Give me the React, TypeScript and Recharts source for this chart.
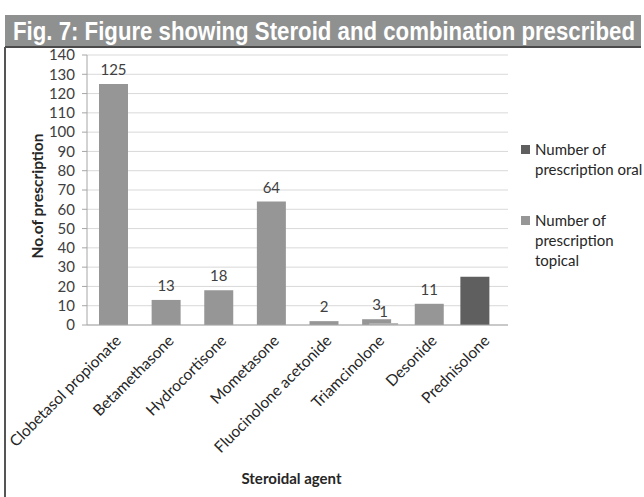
import React from 'react';
import { BarChart, Bar, XAxis, YAxis, CartesianGrid, LabelList, Label } from 'recharts';

// steroid agents on the x axis
const agents = [
  'Clobetasol propionate',
  'Betamethasone',
  'Hydrocortisone',
  'Mometasone',
  'Fluocinolone acetonide',
  'Triamcinolone',
  'Desonide',
  'Prednisolone',
];
const oralCounts = [null, null, null, null, null, null, null, 25];
const topicalCounts = [125, 13, 18, 64, 2, 3, 11, null];
const otherCounts = [null, null, null, null, null, 1, null, null];
const yTicks = [0, 10, 20, 30, 40, 50, 60, 70, 80, 90, 100, 110, 120, 130, 140];

const seriesNames = ['Number of prescription oral', 'Number of prescription topical'];

const data = agents.map((name, i) => ({
  name,
  oral: oralCounts[i],
  topical: topicalCounts[i],
  other: otherCounts[i],
}));

const FONT = 'Lato, "Open Sans", sans-serif';

const AgentTick = (props: any) => {
  const { x, y, payload } = props;
  return (
    <g transform={`translate(${x + 6},${y + 6})`}>
      <text transform="rotate(-45)" textAnchor="end" dy={4} fontSize={15.5} fill="#262626" fontFamily={FONT}>
        {payload.value}
      </text>
    </g>
  );
};

const showValue = (v: any) => (v == null ? '' : v);

export default function App() {
  return (
    <div style={{ position: 'absolute', left: 0, top: 0, width: 644, height: 497, background: '#fff', fontFamily: FONT }}>
      <svg width={644} height={50} style={{ position: 'absolute', left: 0, top: 0 }}>
        <rect x={5} y={15} width={636} height={31} fill="#8f9191" />
        <rect x={5} y={46} width={636} height={2} fill="#4a4a4a" />
        <text
          x={13}
          y={40}
          textLength={622}
          lengthAdjust="spacingAndGlyphs"
          fill="#fff"
          fontFamily='"Liberation Sans", Arial, sans-serif'
          fontWeight="bold"
          fontSize={26}
        >
          Fig. 7: Figure showing Steroid and combination prescribed
        </text>
      </svg>
      <div style={{ position: 'absolute', left: 4, top: 47, width: 2, height: 450, background: '#555' }} />
      <div style={{ position: 'absolute', left: 0, top: 0 }}>
        <BarChart
          width={644}
          height={497}
          data={data}
          margin={{ top: 55, right: 136, bottom: 0, left: 0 }}
          barSize={29}
          barGap={-22}
        >
          <CartesianGrid vertical={false} stroke="#d9d9d9" />
          <XAxis
            dataKey="name"
            interval={0}
            height={172}
            tick={<AgentTick />}
            tickLine={false}
            axisLine={{ stroke: '#a6a6a6' }}
          >
            <Label
              value="Steroidal agent"
              position="insideBottom"
              offset={13}
              dx={-6}
              style={{ fontWeight: 'bold', fontSize: 15, fill: '#262626', fontFamily: FONT }}
            />
          </XAxis>
          <YAxis
            width={87}
            domain={[0, 140]}
            ticks={yTicks}
            interval={0}
            tick={{ fontSize: 15, fill: '#404040', fontFamily: FONT, dx: -5 }}
            tickLine={{ stroke: '#a6a6a6' }}
            tickSize={5}
            axisLine={{ stroke: '#a6a6a6' }}
          >
            <Label
              value="No.of prescription"
              angle={-90}
              position="insideLeft"
              offset={37}
              dy={6}
              style={{ textAnchor: 'middle', fontWeight: 'bold', fontSize: 15.5, fill: '#262626', fontFamily: FONT }}
            />
          </YAxis>
          <Bar dataKey="oral" name={seriesNames[0]} fill="#5f5f5f" isAnimationActive={false} />
          <Bar dataKey="topical" name={seriesNames[1]} fill="#969696" isAnimationActive={false}>
            <LabelList dataKey="topical" position="top" offset={9} formatter={showValue} fontSize={15} fill="#404040" fontFamily={FONT} />
          </Bar>
          <Bar dataKey="other" name="Number of prescription other" fill="#b4b4b4" isAnimationActive={false}>
            <LabelList dataKey="other" position="top" offset={6} formatter={showValue} fontSize={15} fill="#404040" fontFamily={FONT} />
          </Bar>
        </BarChart>
      </div>
      <div style={{ position: 'absolute', left: 521, top: 139, fontSize: 15, lineHeight: '20px', color: '#262626' }}>
        {seriesNames.map((n, i) => (
          <div key={n} style={{ position: 'relative', paddingLeft: 14, width: 110, marginBottom: i === 0 ? 31 : 0 }}>
            <span
              style={{
                position: 'absolute',
                left: 0,
                top: 6,
                width: 9,
                height: 9,
                background: i === 0 ? '#5f5f5f' : '#969696',
              }}
            />
            {n}
          </div>
        ))}
      </div>
    </div>
  );
}
